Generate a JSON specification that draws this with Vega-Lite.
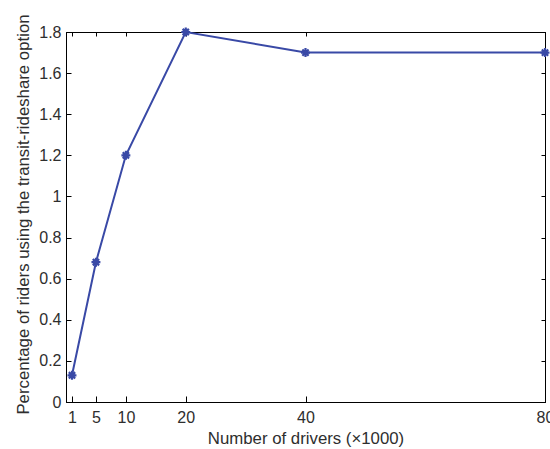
{
  "$schema": "https://vega.github.io/schema/vega-lite/v6.json",
  "width": 479,
  "height": 370,
  "autosize": {"type": "none"},
  "padding": {"left": 66, "top": 32, "right": 5, "bottom": 47},
  "background": "white",
  "config": {
    "view": {"stroke": "#000", "strokeWidth": 1},
    "axis": {
      "grid": false,
      "domainColor": "#000",
      "tickColor": "#000",
      "labelFont": "Liberation Sans",
      "titleFont": "Liberation Sans",
      "labelFontSize": 16,
      "titleFontSize": 16.8,
      "labelColor": "#2e2e2e",
      "titleColor": "#2e2e2e",
      "titleFontWeight": "normal"
    }
  },
  "data": {
    "values": [
      {"drivers": 1, "pct": 0.13},
      {"drivers": 5, "pct": 0.68},
      {"drivers": 10, "pct": 1.2},
      {"drivers": 20, "pct": 1.8},
      {"drivers": 40, "pct": 1.7},
      {"drivers": 80, "pct": 1.7}
    ]
  },
  "layer": [
    {
      "mark": {
        "type": "line",
        "color": "#3949a6",
        "strokeWidth": 2,
        "point": {
          "shape": "M-1,0L1,0M0,-1L0,1M-0.7,-0.7L0.7,0.7M-0.7,0.7L0.7,-0.7",
          "filled": false,
          "size": 80,
          "strokeWidth": 2.2,
          "color": "#3949a6"
        }
      },
      "encoding": {
        "x": {
          "field": "drivers",
          "type": "quantitative",
          "scale": {"domain": [0, 80], "nice": false, "zero": false},
          "axis": {
            "values": [1, 5, 10, 20, 40, 80],
            "tickSize": -6,
            "labelPadding": 13,
            "labelFlush": false,
            "labelOverlap": false,
            "title": "Number of drivers (×1000)",
            "titleY": 41,
            "titleBaseline": "alphabetic"
          }
        },
        "y": {
          "field": "pct",
          "type": "quantitative",
          "scale": {"domain": [0, 1.8], "nice": false},
          "axis": {
            "values": [0, 0.2, 0.4, 0.6, 0.8, 1, 1.2, 1.4, 1.6, 1.8],
            "format": "~g",
            "tickSize": -5,
            "labelPadding": 10,
            "labelFlush": false,
            "labelOverlap": false,
            "title": "Percentage of riders using the transit-rideshare option",
            "titleX": -38,
            "titleY": 182,
            "titleAngle": -90,
            "titleAlign": "center",
            "titleBaseline": "alphabetic"
          }
        }
      }
    },
    {
      "mark": {"type": "point", "opacity": 0},
      "encoding": {
        "x": {
          "field": "drivers",
          "type": "quantitative",
          "scale": {"domain": [0, 80], "nice": false, "zero": false},
          "axis": {
            "orient": "top",
            "values": [1, 5, 10, 20, 40, 80],
            "tickSize": -4,
            "labels": false,
            "title": null
          }
        },
        "y": {
          "field": "pct",
          "type": "quantitative",
          "scale": {"domain": [0, 1.8], "nice": false},
          "axis": {
            "orient": "right",
            "values": [0, 0.2, 0.4, 0.6, 0.8, 1, 1.2, 1.4, 1.6, 1.8],
            "tickSize": -4,
            "labels": false,
            "title": null
          }
        }
      }
    }
  ],
  "resolve": {
    "scale": {"x": "independent", "y": "independent"},
    "axis": {"x": "independent", "y": "independent"}
  }
}
